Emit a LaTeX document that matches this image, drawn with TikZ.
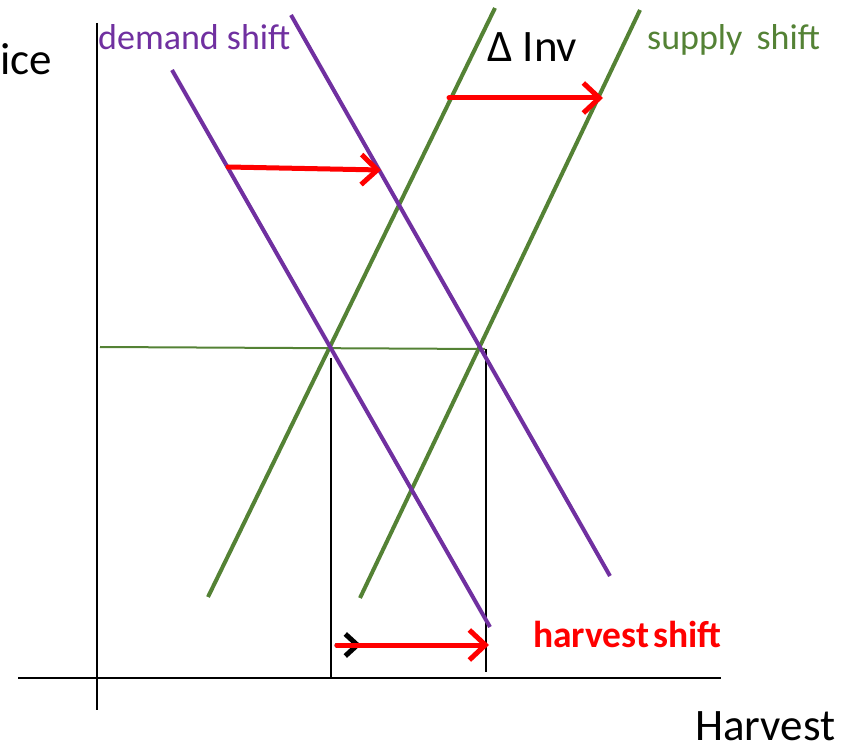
\documentclass[tikz,border=0pt]{standalone}
\usepackage{fontspec}
\setmainfont{Carlito}
\usetikzlibrary{arrows.meta}
\definecolor{dpurple}{HTML}{7030A0}
\definecolor{sgreen}{HTML}{548235}
\definecolor{ared}{HTML}{FF0000}
\tikzset{
  demandline/.style={draw=dpurple,line width=4pt},
  supplyline/.style={draw=sgreen,line width=4pt},
  axisline/.style={draw=black,line width=2.5pt},
  guideline/.style={draw=black,line width=2pt},
  shiftarrow/.style={draw=ared,line width=5pt,line cap=round,-{Straight Barb[length=16pt,width=30pt,line width=5pt]}},
  blackarrow/.style={draw=black,line width=5pt,line cap=round,-{Straight Barb[length=12pt,width=22pt,line width=5pt]}},
  bigtext/.style={inner sep=0pt,anchor=base west,font=\fontsize{45}{50}\selectfont},
  midtext/.style={inner sep=0pt,anchor=base west,font=\fontsize{36}{40}\selectfont},
}
\begin{document}
\begin{tikzpicture}[x=1pt,y=-1pt]
\useasboundingbox (0,0) rectangle (855,751);
% coordinates
\coordinate (yTop) at (97,23);
\coordinate (yBot) at (97,710);
\coordinate (xL) at (18,678);
\coordinate (xR) at (721,678);
\coordinate (d1a) at (172,70);
\coordinate (d1b) at (490,627);
\coordinate (d2a) at (291,15);
\coordinate (d2b) at (610,576);
\coordinate (s1a) at (208,597);
\coordinate (s1b) at (495,8);
\coordinate (s2a) at (360,598);
\coordinate (s2b) at (640,10);
\coordinate (hL) at (100,347);
\coordinate (hR) at (485,349);
\coordinate (v1t) at (331,358);
\coordinate (v1b) at (331,678);
\coordinate (v2t) at (486,349);
\coordinate (v2b) at (486,672);
\coordinate (a1s) at (228,167);
\coordinate (a1e) at (381,170);
\coordinate (a2s) at (449,98);
\coordinate (a2e) at (603,98);
\coordinate (a3s) at (337,645);
\coordinate (a3e) at (489,645);
\coordinate (a4e) at (361,645);
% axes
\draw[axisline] (yTop) -- (yBot);
\draw[axisline] (xL) -- (xR);
% guides
\draw[guideline] (v1t) -- (v1b);
\draw[guideline] (v2t) -- (v2b);
\draw[draw=sgreen,line width=2pt] (hL) -- (hR);
% curves
\draw[supplyline] (s1a) -- (s1b);
\draw[supplyline] (s2a) -- (s2b);
\draw[demandline] (d1a) -- (d1b);
\draw[demandline] (d2a) -- (d2b);
% arrows
\draw[shiftarrow] (a1s) -- (a1e);
\draw[shiftarrow] (a2s) -- (a2e);
\draw[blackarrow] (a3s) -- (a4e);
\draw[shiftarrow] (a3s) -- (a3e);
% texts
\node[bigtext] (price) at (0,75) {ice};
\node[midtext,text=dpurple] (dshift) at (98,50) {demand shift};
\node[bigtext] (dinv) at (487,62) {Δ Inv};
\node[midtext,text=sgreen] (sshift) at (647,50) {supply\, shift};
\node[midtext,text=ared,font=\fontsize{37.5}{40}\selectfont\bfseries] (hshift) at (533,647) {harvest\hspace{0.1em}shift};
\node[bigtext] (harv) at (695,740) {Harvest};
\end{tikzpicture}
\end{document}
